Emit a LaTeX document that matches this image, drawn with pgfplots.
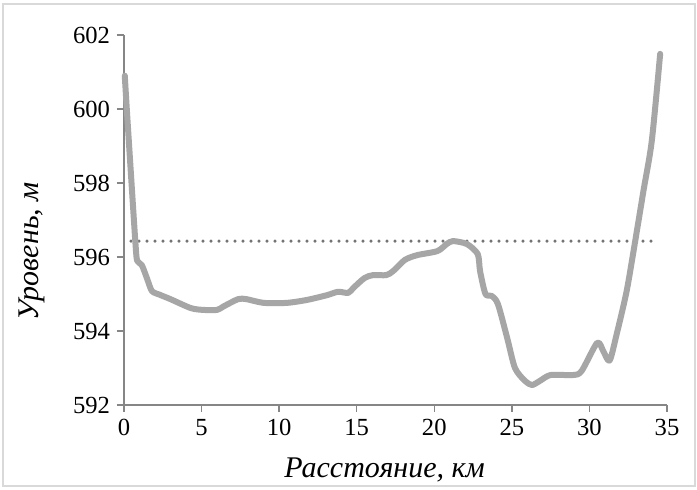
\documentclass[border=0pt]{standalone}
\usepackage{pgfplots}
\pgfplotsset{compat=1.18}
\usepackage{fontspec}
\setmainfont{Liberation Serif}
\definecolor{linegray}{HTML}{A6A6A6}
\definecolor{dotgray}{HTML}{747474}
\definecolor{axgray}{HTML}{868686}
\definecolor{bordergray}{HTML}{D9D9D9}
\begin{document}
\begin{tikzpicture}
\useasboundingbox (-62pt,-42.5pt) rectangle (286.5pt,202.5pt);
\fill[white] (-62pt,-42.5pt) rectangle (286.5pt,202.5pt);
\draw[bordergray, line width=0.8pt] (-60.5pt,-40.5pt) rectangle (285.5pt,200.5pt);
\begin{axis}[
  at={(0,0)}, anchor=south west,
  scale only axis,
  width=271.5pt, height=185pt,
  xmin=0, xmax=35, ymin=592, ymax=602,
  xtick={0,5,...,35}, ytick={592,594,...,602},
  axis lines*=left,
  axis line style={axgray, line width=0.7pt},
  tick style={axgray, line width=0.7pt},
  tick align=outside,
  major tick length=3.5pt,
  /pgf/number format/assume math mode=true,
  /pgf/number format/1000 sep={},
  ticklabel style={font=\fontsize{12.3}{14}\selectfont},
  xlabel={Расстояние, км},
  ylabel={Уровень, м},
  label style={font=\fontsize{15}{18}\selectfont\itshape},
  xlabel style={at={(axis description cs:0.48,0)}, anchor=base, yshift=-36.5pt},
  ylabel style={at={(axis description cs:-0.169,0.416)}, anchor=center, rotate=0},
  clip=false,
]
\addplot[dotgray, line width=1.7pt, line cap=round, dash pattern=on 0pt off 4pt] coordinates {(0.45,596.43) (34.4,596.43)};
\addplot[linegray, line width=3pt, smooth, tension=0.45, line join=round, line cap=round] coordinates {
(0.05,600.9) (0.18,600.0) (0.5,597.9) (0.75,596.3) (0.85,595.9) (1.15,595.78) (1.5,595.4)
(1.8,595.08) (2.3,594.98) (3.0,594.86) (4.3,594.62) (5.1,594.57) (6.0,594.57) (6.4,594.66)
(7.35,594.86) (7.9,594.86) (9.0,594.76) (10.5,594.76) (11.8,594.84) (13.1,594.97) (13.8,595.06)
(14.45,595.03) (14.8,595.17) (15.5,595.43) (16.05,595.51) (16.9,595.51) (17.35,595.62)
(18.1,595.92) (18.9,596.05) (20.2,596.16) (20.8,596.35) (21.2,596.43) (22.1,596.35)
(22.8,596.08) (22.95,595.62) (23.3,595.0) (23.7,594.95) (24.1,594.73) (24.7,593.81)
(25.2,593.0) (25.85,592.65) (26.3,592.54) (26.8,592.65) (27.5,592.81) (28.95,592.81)
(29.5,592.92) (30.5,593.68) (30.9,593.45) (31.3,593.2) (31.76,593.92) (32.4,595.08)
(32.95,596.43) (33.48,597.78) (34.02,599.14) (34.56,601.49)
};
\end{axis}
\end{tikzpicture}
\end{document}
